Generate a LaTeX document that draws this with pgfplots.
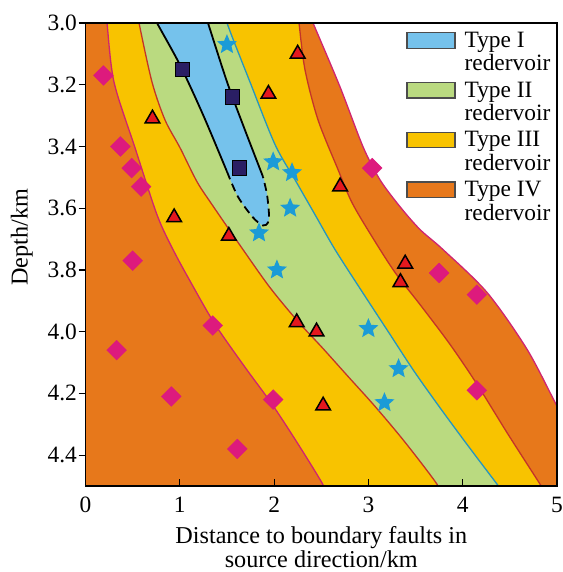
\documentclass[border=0pt]{standalone}
\usepackage{fontspec}
\setmainfont{Liberation Serif}
\usepackage{pgfplots}
\pgfplotsset{compat=1.18}
\usepgfplotslibrary{fillbetween}
\usetikzlibrary{plotmarks}

\definecolor{cIV}{RGB}{231,120,27}
\definecolor{cIII}{RGB}{248,195,0}
\definecolor{cII}{RGB}{186,218,128}
\definecolor{cI}{RGB}{117,194,236}
\definecolor{lmag}{RGB}{208,36,112}
\definecolor{lred}{RGB}{196,52,40}
\definecolor{lteal}{RGB}{38,150,190}
\definecolor{msq}{RGB}{42,30,100}
\definecolor{mstar}{RGB}{27,155,215}
\definecolor{mtri}{RGB}{228,24,30}
\definecolor{mdia}{RGB}{221,26,125}

\pgfdeclareplotmark{fstar}{%
 \pgfpathmoveto{\pgfpointpolar{90}{\pgfplotmarksize}}%
 \pgfpathlineto{\pgfpointpolar{126}{0.45*\pgfplotmarksize}}%
 \pgfpathlineto{\pgfpointpolar{162}{\pgfplotmarksize}}%
 \pgfpathlineto{\pgfpointpolar{198}{0.45*\pgfplotmarksize}}%
 \pgfpathlineto{\pgfpointpolar{234}{\pgfplotmarksize}}%
 \pgfpathlineto{\pgfpointpolar{270}{0.45*\pgfplotmarksize}}%
 \pgfpathlineto{\pgfpointpolar{306}{\pgfplotmarksize}}%
 \pgfpathlineto{\pgfpointpolar{342}{0.45*\pgfplotmarksize}}%
 \pgfpathlineto{\pgfpointpolar{18}{\pgfplotmarksize}}%
 \pgfpathlineto{\pgfpointpolar{54}{0.45*\pgfplotmarksize}}%
 \pgfpathclose\pgfusepathqfill}

\begin{document}
\begin{tikzpicture}
\begin{axis}[
  set layers, axis on top,
  axis background/.style={fill=cIV},
  scale only axis, width=471.5bp, height=463bp,
  xmin=0, xmax=5, ymin=3, ymax=4.5, y dir=reverse,
  xtick={0,1,2,3,4,5},
  ytick={3.0,3.2,3.4,3.6,3.8,4.0,4.2,4.4},
  xtick pos=bottom, ytick pos=left,
  xtick align=inside, ytick align=outside,
  major tick length=7bp,
  tick style={black, line width=1.2bp},
  axis line style={black, line width=1.3bp},
  /pgf/number format/assume math mode=true,
  tick label style={font=\fontsize{23.4bp}{24bp}\selectfont, inner sep=0pt},
  yticklabel style={xshift=-1.5bp, /pgf/number format/fixed, /pgf/number format/fixed zerofill, /pgf/number format/precision=1},
  xticklabel style={yshift=-11bp},
  xlabel={Distance to boundary faults in\\source direction/km},
  xlabel style={align=center, font=\fontsize{24.2bp}{24bp}\selectfont, inner sep=0pt,
    at={(axis description cs:0.5,-0.0880)}, anchor=north},
  ylabel={Depth/km},
  ylabel style={font=\fontsize{24.2bp}{25bp}\selectfont, inner sep=0pt,
    at={(axis description cs:-0.135,0.537)}, anchor=center},
  legend cell align=left,
  legend style={at={(axis cs:3.402,3.029)}, anchor=north west, draw=none, fill=none,
    inner sep=0pt, outer sep=0pt, row sep=9.4bp, column sep=9bp,
    nodes={inner sep=0pt, align=left, font=\fontsize{23.4bp}{23.5bp}\selectfont}},
]
\addlegendimage{legend image code/.code={\draw[fill=cI, draw=black!70, line width=1.3bp] (0bp,4bp) rectangle (48bp,19.6bp);}}
\addlegendentry{Type I\\redervoir}
\addlegendimage{legend image code/.code={\draw[fill=cII, draw=black!70, line width=1.3bp] (0bp,4bp) rectangle (48bp,19.6bp);}}
\addlegendentry{Type II\\redervoir}
\addlegendimage{legend image code/.code={\draw[fill=cIII, draw=black!70, line width=1.3bp] (0bp,4bp) rectangle (48bp,19.6bp);}}
\addlegendentry{Type III\\redervoir}
\addlegendimage{legend image code/.code={\draw[fill=cIV, draw=black!70, line width=1.3bp] (0bp,4bp) rectangle (48bp,19.6bp);}}
\addlegendentry{Type IV\\redervoir}

% outside the Type IV zone (right of the outer boundary): blank
\addplot[fill=white, draw=none, smooth, on layer=pre main] coordinates {
 (2.344,2.95) (2.413,3.000) (2.699,3.207) (2.943,3.401) (3.123,3.508) (3.335,3.595)
 (3.547,3.669) (3.791,3.734) (4.258,3.873) (4.682,4.057) (5.000,4.241) (5.3,4.41)
 (5.8,4.41) (5.8,2.8) (2.3,2.8)};

% boundary curves
\addplot[lmag, line width=1.3bp, smooth, name path=A] coordinates {
 (0.21,2.95) (0.228,3.000) (0.302,3.191) (0.525,3.404) (0.758,3.621) (0.928,3.734)
 (1.129,3.847) (1.373,3.976) (1.691,4.115) (1.978,4.235) (2.254,4.364) (2.508,4.490) (2.56,4.53)};
\addplot[lred, line width=1.3bp, smooth, name path=B] coordinates {
 (0.55,2.95) (0.568,3.000) (0.705,3.191) (0.843,3.314) (1.002,3.404) (1.182,3.514)
 (1.341,3.588) (1.670,3.734) (1.956,3.857) (2.253,3.967) (2.508,4.051) (2.784,4.145)
 (3.070,4.242) (3.388,4.358) (3.727,4.494) (3.76,4.53)};
\addplot[lteal, line width=1.3bp, smooth, name path=C] coordinates {
 (1.48,2.95) (1.501,3.000) (1.744,3.191) (2.010,3.394) (2.222,3.508) (2.434,3.621)
 (2.646,3.734) (2.932,3.870) (3.208,3.999) (3.484,4.128) (3.770,4.251) (4.067,4.374)
 (4.364,4.494) (4.45,4.53)};
\addplot[lred, line width=1.3bp, smooth, name path=D] coordinates {
 (2.245,2.95) (2.264,3.000) (2.328,3.152) (2.466,3.314) (2.678,3.475) (2.826,3.582)
 (3.038,3.692) (3.282,3.808) (3.547,3.912) (3.865,4.041) (4.151,4.170) (4.480,4.332)
 (4.820,4.494) (4.89,4.53)};
\addplot[lmag, line width=1.3bp, smooth] coordinates {
 (2.344,2.95) (2.413,3.000) (2.699,3.207) (2.943,3.401) (3.123,3.508) (3.335,3.595)
 (3.547,3.669) (3.791,3.734) (4.258,3.873) (4.682,4.057) (5.000,4.241) (5.3,4.41)};

% filled zones
\addplot[cIII] fill between[of=A and D];
\addplot[cII] fill between[of=B and C];

% type I zone
\addplot[fill=cI, draw=none, smooth] coordinates {
 (0.67,2.95) (0.758,3.000) (1.002,3.136) (1.246,3.297) (1.501,3.482) (1.617,3.563)
 (1.776,3.630) (1.882,3.656) (1.935,3.647) (1.946,3.621) (1.925,3.556) (1.882,3.498)
 (1.670,3.330) (1.501,3.191) (1.299,3.000) (1.246,2.95)};
\addplot[black, line width=1.8bp, smooth] coordinates {
 (0.67,2.95) (0.758,3.000) (1.002,3.136) (1.246,3.297) (1.501,3.482)};
\addplot[black, line width=1.8bp, smooth, dash pattern=on 8bp off 5bp] coordinates {
 (1.501,3.482) (1.617,3.563) (1.776,3.630) (1.882,3.656) (1.935,3.647) (1.946,3.621)
 (1.925,3.556) (1.882,3.498)};
\addplot[black, line width=1.8bp, smooth] coordinates {
 (1.882,3.498) (1.670,3.330) (1.501,3.191) (1.299,3.000) (1.246,2.95)};

% samples
\addplot[only marks, mark=square*, mark size=7.2bp, mark options={fill=msq, draw=black, line width=1bp}] coordinates {
 (1.03,3.15) (1.56,3.24) (1.63,3.47)};
\addplot[only marks, mark=fstar, mark size=10.5bp, color=mstar, mark options={fill=mstar, draw=none}] coordinates {
 (1.50,3.07) (1.99,3.45) (2.19,3.485) (2.17,3.60) (1.84,3.68) (2.03,3.80)
 (3.00,3.99) (3.32,4.12) (3.17,4.23)};
\addplot[only marks, mark=triangle*, mark size=8.5bp, mark options={fill=mtri, draw=black, line width=1.5bp}] coordinates {
 (2.25,3.10) (1.94,3.23) (0.71,3.31) (2.70,3.53) (0.94,3.63) (1.52,3.69)
 (3.39,3.78) (3.34,3.84) (2.24,3.97) (2.45,4.00) (2.52,4.24)};
\addplot[only marks, mark=square*, mark size=7bp, mark options={fill=mdia, draw=mdia, rotate=45}] coordinates {
 (0.19,3.17) (0.37,3.40) (0.49,3.47) (0.59,3.53) (0.50,3.77) (1.35,3.98) (0.33,4.06)
 (0.91,4.21) (1.99,4.22) (1.61,4.38) (3.04,3.47) (3.75,3.81) (4.15,3.88) (4.15,4.19)};

\coordinate (bl) at (axis description cs:0,0);
\coordinate (tr) at (axis description cs:1,1);
\end{axis}
\pgfresetboundingbox
\path ([shift={(-85.5bp,-86bp)}]bl) rectangle ([shift={(6bp,23bp)}]tr);
\end{tikzpicture}
\end{document}
